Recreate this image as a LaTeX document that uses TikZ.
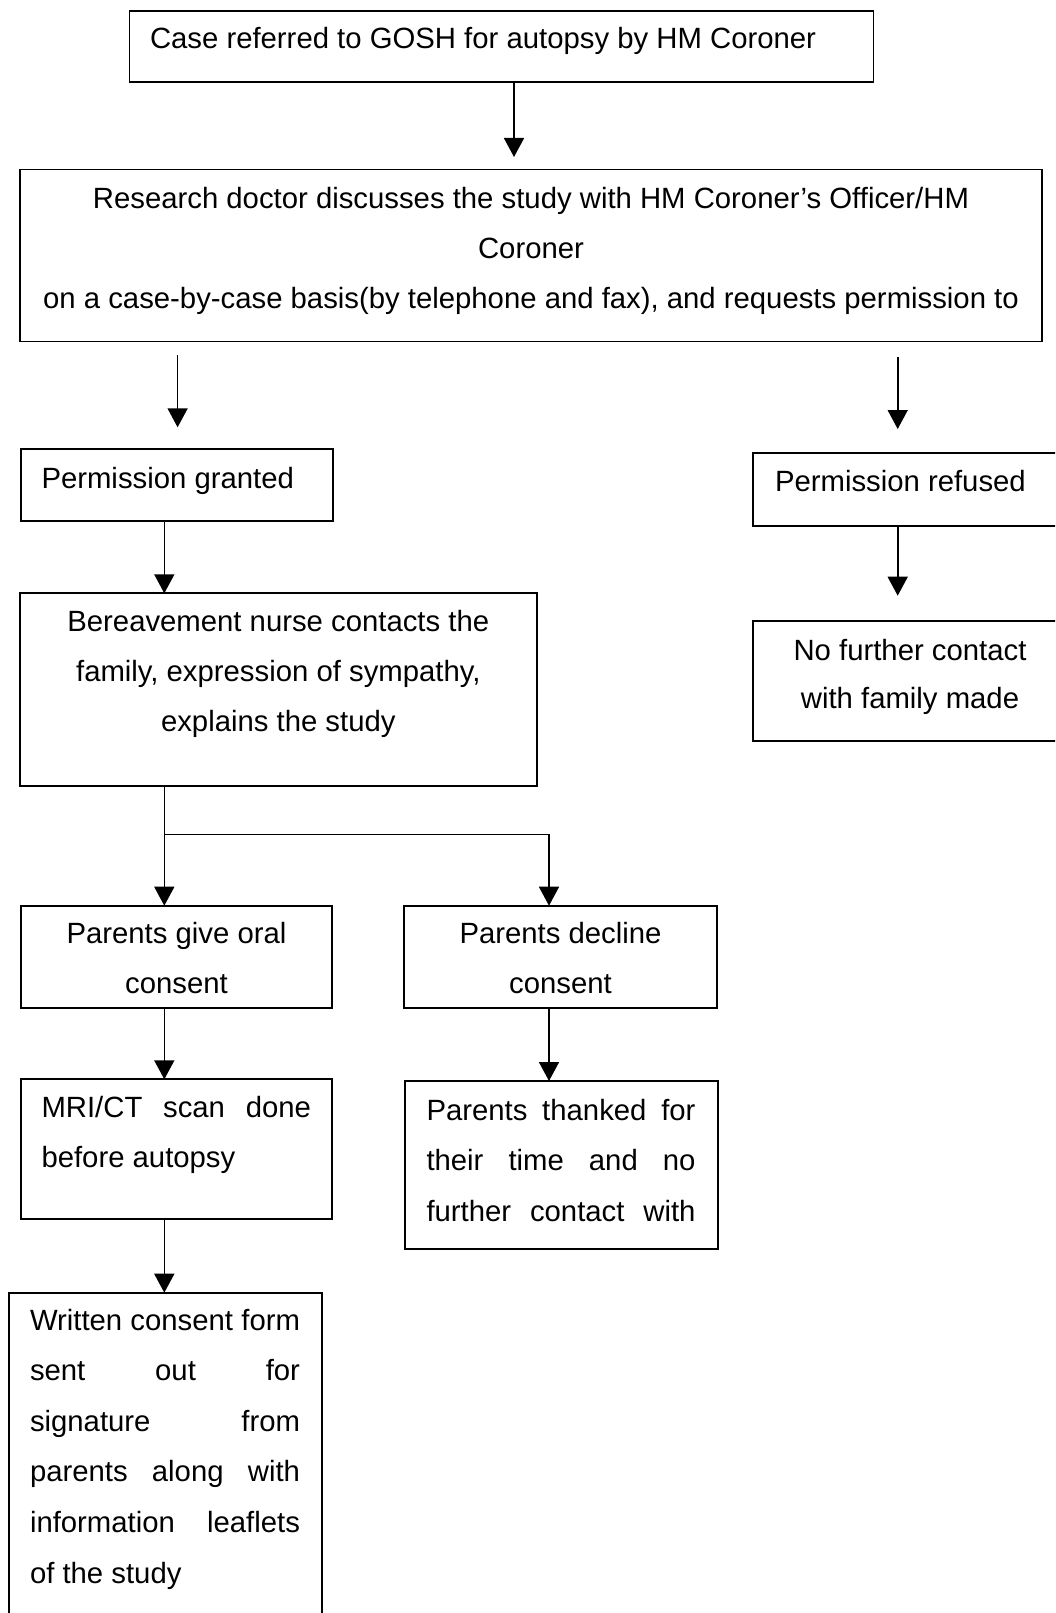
\documentclass[tikz,border=0pt]{standalone}
\usepackage{fontspec}
\setmainfont{Liberation Sans}
\usetikzlibrary{arrows.meta}
\begin{document}
\begin{tikzpicture}[x=1pt,y=-1pt,
  box/.style={draw, line width=1.8pt, inner sep=0pt, outer sep=0pt, anchor=north west},
  txt/.style={inner sep=0pt, outer sep=0pt, font=\fontsize{29.3pt}{50pt}\selectfont},
  arr/.style={line width=1.6pt, -{Triangle[width=20pt,length=19pt]}},
  ln/.style={line width=1.6pt}]
\useasboundingbox (0,0) rectangle (1055,1613);
\clip (0,0) rectangle (1055,1613);
% boxes
\node[box, minimum width=744pt, minimum height=71.6pt] (b1) at (129.5,10.7) {};
\node[box, minimum width=1021.7pt, minimum height=172pt] (b2) at (20,169.5) {};
\node[box, minimum width=312.3pt, minimum height=71.4pt] (pg) at (20.7,449.3) {};
\node[box, minimum width=314pt, minimum height=73pt] (pr) at (753.3,452.7) {};
\node[box, minimum width=516.7pt, minimum height=192.4pt] (ber) at (20.3,593.3) {};
\node[box, minimum width=314pt, minimum height=120pt] (nf) at (753.3,621) {};
\node[box, minimum width=311.6pt, minimum height=102pt] (oral) at (20.7,905.7) {};
\node[box, minimum width=312.7pt, minimum height=102pt] (dec) at (404,905.7) {};
\node[box, minimum width=311.6pt, minimum height=140pt] (mri) at (20.7,1079.3) {};
\node[box, minimum width=312.7pt, minimum height=168pt] (thk) at (405,1081) {};
\node[box, minimum width=312.7pt, minimum height=400pt] (wr) at (9.3,1292.7) {};
% texts
\node[txt, anchor=base west] (t1) at (150,48.3) {Case referred to GOSH for autopsy by HM Coroner};
\node[txt, anchor=base] (t2a) at (531,208.3) {Research doctor discusses the study with HM Coroner’s Officer/HM};
\node[txt, anchor=base] (t2b) at (531,258.3) {Coroner};
\node[txt, anchor=base] (t2c) at (531,308.8) {on a case-by-case basis(by telephone and fax), and requests permission to};
\node[txt, anchor=base west] (t3) at (41.5,488.3) {Permission granted};
\node[txt, anchor=base west] (t4) at (775,491.7) {Permission refused};
\node[txt, anchor=base] (t5a) at (278.3,631.7) {Bereavement nurse contacts the};
\node[txt, anchor=base] (t5b) at (278.3,681.7) {family, expression of sympathy,};
\node[txt, anchor=base] (t5c) at (278.3,731.7) {explains the study};
\node[txt, anchor=base] (t6a) at (910,660) {No further contact};
\node[txt, anchor=base] (t6b) at (910,708.8) {with family made};
\node[txt, anchor=base] (t7a) at (176.5,943.3) {Parents give oral};
\node[txt, anchor=base] (t7b) at (176.5,993.3) {consent};
\node[txt, anchor=base] (t8a) at (560.5,943.3) {Parents decline};
\node[txt, anchor=base] (t8b) at (560.5,993.3) {consent};
\node[txt, anchor=base west] (t9a) at (41.5,1117.2) {\hbox to 269.5pt{MRI/CT\hfill scan\hfill done}};
\node[txt, anchor=base west] (t9b) at (41.5,1167.7) {before autopsy};
\node[txt, anchor=base west] (t10a) at (426.5,1120) {\hbox to 269pt{Parents\hfill thanked\hfill for}};
\node[txt, anchor=base west] (t10b) at (426.5,1170.5) {\hbox to 269pt{their\hfill time\hfill and\hfill no}};
\node[txt, anchor=base west] (t10c) at (426.5,1221) {\hbox to 269pt{further\hfill contact\hfill with}};
\node[txt, anchor=base west] (t11a) at (30,1330) {\hbox to 270pt{Written\hfill consent\hfill form}};
\node[txt, anchor=base west] (t11b) at (30,1380.6) {\hbox to 270pt{sent\hfill out\hfill for}};
\node[txt, anchor=base west] (t11c) at (30,1431.2) {\hbox to 270pt{signature\hfill from}};
\node[txt, anchor=base west] (t11d) at (30,1481.8) {\hbox to 270pt{parents\hfill along\hfill with}};
\node[txt, anchor=base west] (t11e) at (30,1532.4) {\hbox to 270pt{information\hfill leaflets}};
\node[txt, anchor=base west] (t11f) at (30,1583) {of the study};
% connectors
\coordinate (a1) at (514,157);
\draw[arr] (b1.south -| a1) -- (a1);
\coordinate (a2s) at (177.6,355);
\coordinate (a2e) at (177.6,427.3);
\draw[arr] (a2s) -- (a2e);
\coordinate (a3s) at (897.7,356.7);
\coordinate (a3e) at (897.7,429);
\draw[arr] (a3s) -- (a3e);
\coordinate (xL) at (164.3,0);
\draw[arr] (pg.south -| xL) -- (ber.north -| xL);
\coordinate (a4e) at (897.7,595.7);
\draw[arr] (pr.south -| a4e) -- (a4e);
\coordinate (j1) at (164.3,834.3);
\coordinate (j2) at (549,834.3);
\draw[arr] (ber.south -| j1) -- (oral.north -| j1);
\draw[arr] (j1) -- (j2) -- (dec.north -| j2);
\draw[arr] (oral.south -| xL) -- (mri.north -| xL);
\draw[arr] (dec.south -| j2) -- (thk.north -| j2);
\draw[arr] (mri.south -| xL) -- (wr.north -| xL);
\end{tikzpicture}
\end{document}
